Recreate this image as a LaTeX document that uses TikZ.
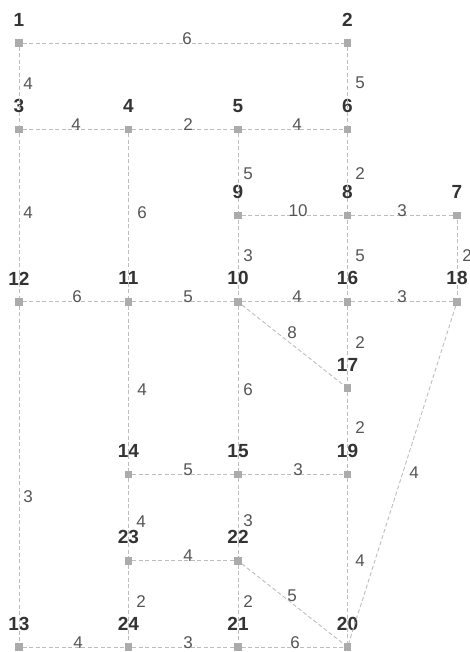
\documentclass[tikz,border=0pt]{standalone}
\usepackage{fontspec}
\setmainfont{Liberation Sans}
\definecolor{sqc}{HTML}{ABABAB}
\definecolor{edc}{HTML}{BDBDBD}
\definecolor{nlc}{HTML}{333333}
\definecolor{wlc}{HTML}{555555}
\tikzset{
  sq/.style={rectangle, minimum size=7.5pt, inner sep=0pt, fill=sqc},
  nl/.style={inner sep=0pt, text=nlc, font={\fontsize{19}{22}\selectfont\bfseries}},
  wl/.style={inner sep=0pt, text=wlc, font={\fontsize{17}{20}\selectfont}},
  edge/.style={draw=edc, line width=0.9pt, dash pattern=on 4pt off 2.5pt}
}
\begin{document}
\begin{tikzpicture}[x=1pt,y=-1pt]
\useasboundingbox (0,0) rectangle (469,652);
\foreach \n/\x/\y in {1/19/43, 2/347.5/43,
  3/19/129.3, 4/128.5/129.3, 5/238/129.3, 6/347.5/129.3,
  7/457/215.6, 8/347.5/215.6, 9/238/215.6,
  10/238/301.9, 11/128.5/301.9, 12/19/301.9, 16/347.5/301.9, 18/457/301.9,
  17/347.5/388.2,
  14/128.5/474.5, 15/238/474.5, 19/347.5/474.5,
  22/238/560.8, 23/128.5/560.8,
  13/19/647, 24/128.5/647, 21/238/647, 20/347.5/647}
{
  \node[sq] (n\n) at (\x,\y) {};
  \node[nl] (l\n) at (\x,\y-23.5) {\n};
}
\foreach \a/\b/\wt/\lx/\ly in {
  1/2/6/187/38.5, 1/3/4/28/84, 2/6/5/360/83,
  3/4/4/76/125, 4/5/2/188/124.5, 5/6/4/297/125,
  3/12/4/28/213, 4/11/6/142/213, 5/9/5/248/174, 6/8/2/360/174,
  9/8/10/298/211, 8/7/3/402/211,
  9/10/3/248/256, 8/16/5/360/256, 7/18/2/467/256,
  12/11/6/77/297, 11/10/5/188/297, 10/16/4/297/297, 16/18/3/402/296.5,
  10/17/8/292/333, 16/17/2/360/343,
  12/13/3/28/497, 11/14/4/142/390, 10/15/6/248/390, 17/19/2/360/428, 18/20/4/414/473,
  14/15/5/188/470, 15/19/3/298/470,
  14/23/4/141/522, 15/22/3/248/521, 19/20/4/360/561,
  23/22/4/188/556, 22/20/5/292/596,
  23/24/2/141/602, 22/21/2/248/602,
  13/24/4/78/642.5, 24/21/3/188/642.5, 21/20/6/295/642.5}
{
  \draw[edge] (n\a) -- (n\b);
  \node[wl] (w\a-\b) at (\lx,\ly) {\wt};
}
\end{tikzpicture}
\end{document}
